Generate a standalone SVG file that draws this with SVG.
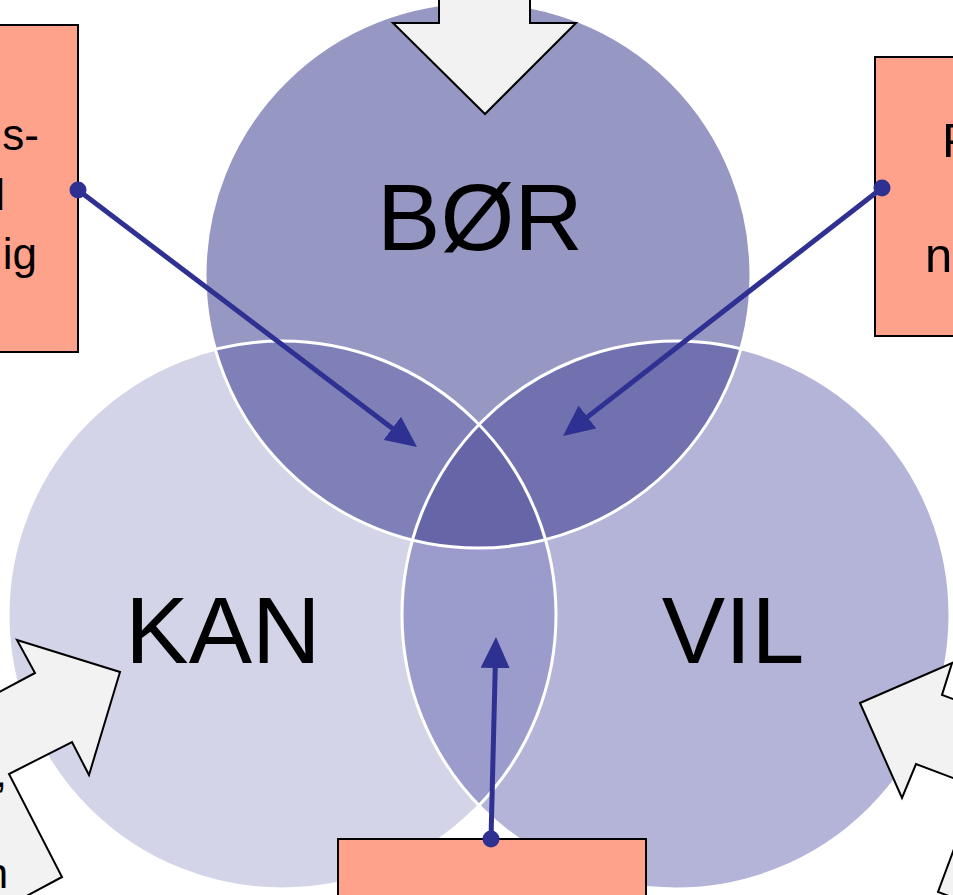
<svg xmlns="http://www.w3.org/2000/svg" width="953" height="895" viewBox="0 0 953 895">
<style>
.lbl{font-family:"Liberation Sans",Arial,sans-serif;font-size:95px;fill:#000;text-anchor:middle}
.box{fill:#ffa28b;stroke:#000;stroke-width:2}
.btxt{font-family:"Liberation Sans",Arial,sans-serif;fill:#000}
.blk{fill:#f2f2f2;stroke:#000;stroke-width:2;stroke-linejoin:miter}
.ring{fill:none;stroke:#fff;stroke-width:3}
.con{fill:none;stroke:#2e3192;stroke-width:5;marker-end:url(#ah)}
.dot{fill:#2e3192}
</style>
<defs>
<clipPath id="cT"><circle cx="478" cy="275" r="273"/></clipPath>
<clipPath id="cL"><circle cx="282" cy="615" r="274"/></clipPath>
<clipPath id="cR"><circle cx="676" cy="615" r="274"/></clipPath>
<marker id="ah" markerUnits="userSpaceOnUse" markerWidth="31" markerHeight="29" viewBox="0 0 31 29" refX="21" refY="14.5" orient="auto">
<path d="M0,0 L31,14.5 L0,29 z" fill="#2e3192"/>
</marker>
</defs>
<rect width="953" height="895" fill="#fff"/>
<g id="venn">
<g id="kan">
<circle cx="282" cy="615" r="274" fill="#d4d4e9"/>
</g>
<g id="vil">
<circle cx="676" cy="615" r="274" fill="#b4b4d8"/>
</g>
<g id="bor">
<circle cx="478" cy="275" r="273" fill="#9797c4"/>
</g>
<g id="overlaps">
<circle cx="282" cy="615" r="274" fill="#8080b9" clip-path="url(#cT)"/>
<circle cx="676" cy="615" r="274" fill="#7171b0" clip-path="url(#cT)"/>
<circle cx="676" cy="615" r="274" fill="#9c9ccc" clip-path="url(#cL)"/>
<g clip-path="url(#cT)"><circle cx="676" cy="615" r="274" fill="#6565a8" clip-path="url(#cL)"/></g>
</g>
<g id="rings">
<circle class="ring" cx="478" cy="275" r="273"/>
<circle class="ring" cx="282" cy="615" r="274"/>
<circle class="ring" cx="676" cy="615" r="274"/>
</g>
<text class="lbl" x="480" y="250">BØR</text>
<text class="lbl" x="223" y="663">KAN</text>
<text class="lbl" x="733" y="663">VIL</text>
</g>
<g id="arrow-top">
<polygon class="blk" points="439,-5 530,-5 530,23 576,23 485,114 393,23 439,23"/>
</g>
<g id="callout-left">
<polygon class="blk" points="17,640 120,672 89,775 72,742 9,774 62,877 -20,921 -300,921 -300,500 -99,572 -27,706 35,673"/>
<text class="btxt" font-size="42" text-anchor="end" x="7" y="787">,</text>
<text class="btxt" font-size="42" text-anchor="end" x="8" y="888">n</text>
</g>
<g id="callout-right">
<polygon class="blk" points="860,703 952,663 942,695 1100,753 1100,952 938,892 977,787 916,764 902,798"/>
</g>
<g id="box-left">
<rect class="box" x="-200" y="25" width="278" height="327"/>
<text class="btxt" font-size="44" text-anchor="end" x="39" y="150">s-</text>
<text class="btxt" font-size="44" text-anchor="end" x="5" y="210">l</text>
<text class="btxt" font-size="44" text-anchor="end" x="37" y="269">ig</text>
</g>
<g id="box-right">
<rect class="box" x="875" y="57" width="200" height="279"/>
<text class="btxt" font-size="49" x="942" y="157">P</text>
<text class="btxt" font-size="49" x="925" y="272">n</text>
</g>
<g id="box-bottom">
<rect class="box" x="338" y="839" width="308" height="100"/>
</g>
<g id="connectors">
<path class="con" d="M78,190 L409,441"/>
<path class="con" d="M882,188 L570.9,429.9"/>
<path class="con" d="M491,839 L495.75,647"/>
<circle class="dot" cx="78" cy="190" r="8.5"/>
<circle class="dot" cx="882" cy="188" r="8.5"/>
<circle class="dot" cx="491" cy="839" r="8.5"/>
</g>
</svg>
